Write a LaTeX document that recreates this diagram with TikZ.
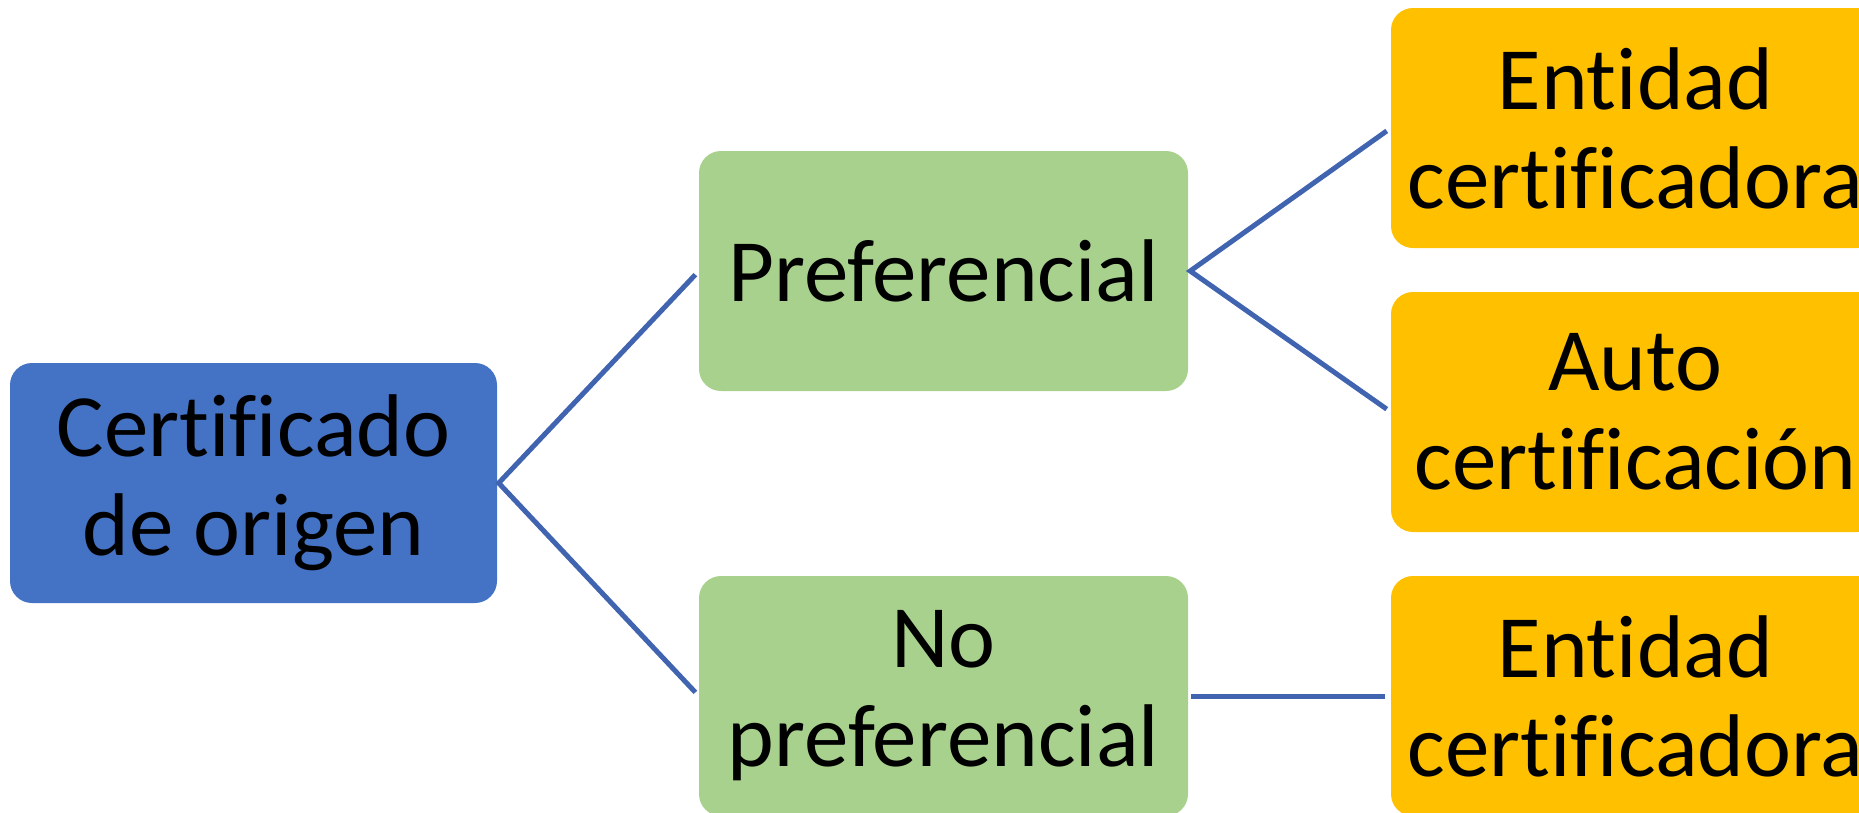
\documentclass[tikz,border=0pt]{standalone}
\usepackage{fontspec}
\setmainfont{Carlito}[Ligatures={TeX,NoCommon}]
\definecolor{cblue}{HTML}{4472C4}
\definecolor{cgreen}{HTML}{A9D18E}
\definecolor{corange}{HTML}{FFC000}
\definecolor{cline}{RGB}{64,100,176}
\begin{document}
\begin{tikzpicture}[x=1pt,y=-1pt,
  box/.style={rounded corners=22pt, minimum width=489pt, minimum height=240pt,
    inner sep=0pt, align=center, font=\fontsize{89}{99}\selectfont, text=black},
  conn/.style={draw=cline, line width=5pt, line join=miter, shorten >=5pt, shorten <=5pt}]
\useasboundingbox (0,0) rectangle (1859,812);
\clip (0,0) rectangle (1859,812);
\node[box, fill=cblue, minimum width=487pt] (root) at (253.5,483) {Certificado\\de origen};
\node[box, fill=cgreen] (g1) at (943.5,271) {Preferencial};
\node[box, fill=cgreen] (g2) at (943.5,696) {No\\preferencial};
\node[box, fill=corange] (o1) at (1635.5,128) {Entidad\\certificadora};
\node[box, fill=corange] (o2) at (1635.5,412) {Auto\\certificación};
\node[box, fill=corange] (o3) at (1635.5,696) {Entidad\\certificadora};
\coordinate (ra) at ([xshift=1.5pt]root.east);
\coordinate (ga) at ([xshift=2pt]g1.east);
\draw[conn] (g1.west) -- (ra) -- (g2.west);
\draw[conn] (o1.west) -- (ga) -- (o2.west);
\draw[conn, shorten <=3pt, shorten >=6pt] (g2.east) -- (o3.west);
\end{tikzpicture}
\end{document}
